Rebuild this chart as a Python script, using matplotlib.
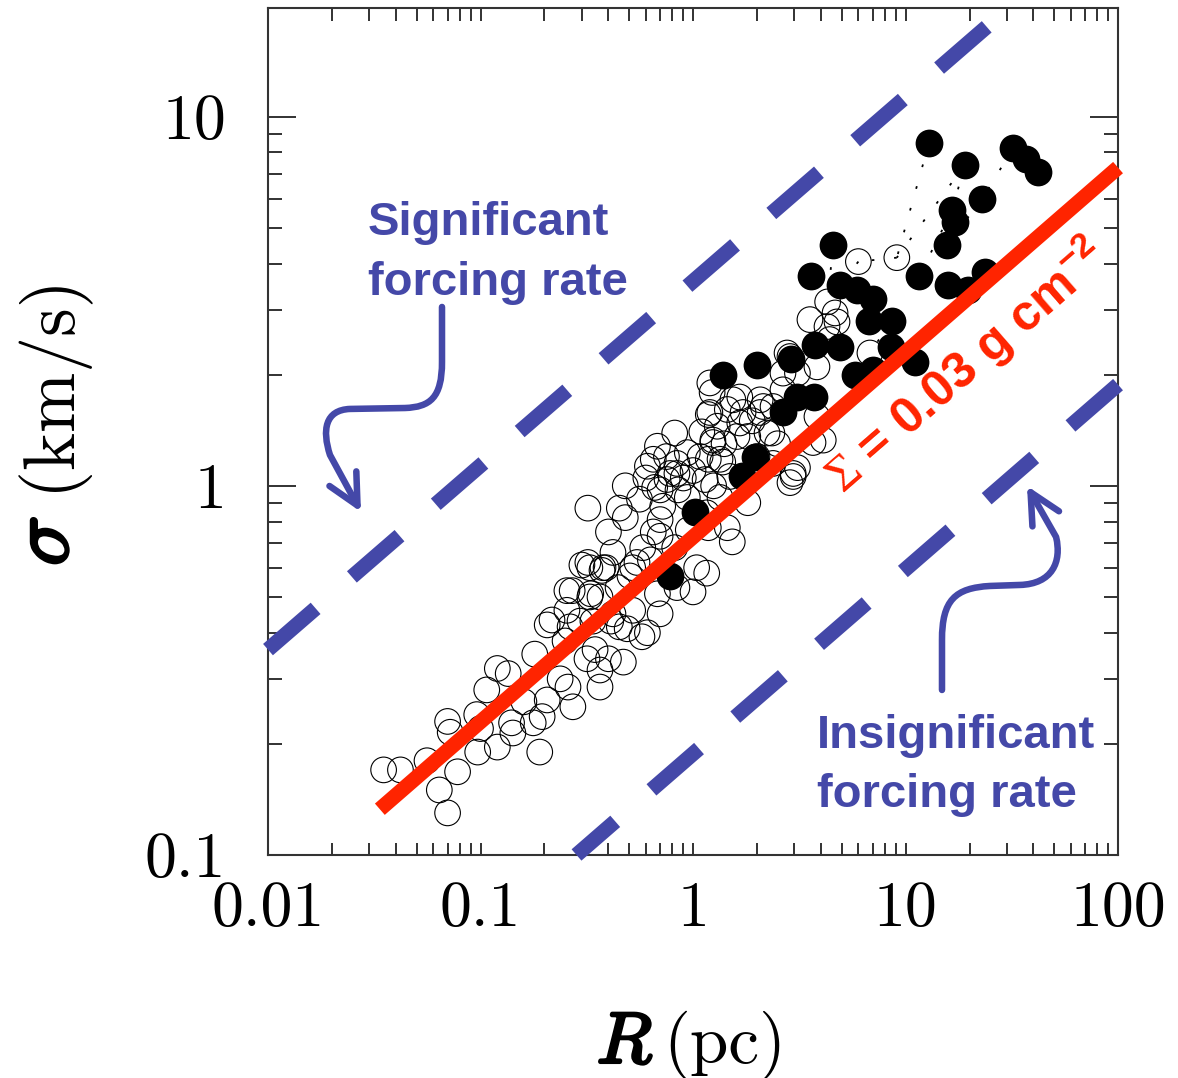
import numpy as np
import matplotlib
matplotlib.use('Agg')
import matplotlib.pyplot as plt
import matplotlib.patheffects as pe
from matplotlib.path import Path
from matplotlib.patches import FancyArrowPatch
from matplotlib.ticker import FuncFormatter, NullFormatter

plt.rcParams['mathtext.fontset'] = 'cm'
# used only by the red label (math_fontfamily='custom')
plt.rcParams['mathtext.rm'] = 'Liberation Serif'
plt.rcParams['mathtext.bf'] = 'Liberation Sans:bold'

BLUE = '#4448A8'
RED = '#FF2400'

# open circles: size R (pc) and velocity dispersion sigma (km/s)
R_open = [0.035, 0.042, 0.056, 0.064, 0.070, 0.078, 0.097, 0.12, 0.070, 0.072,
          0.096, 0.107, 0.12, 0.135, 0.14, 0.142, 0.177, 0.19, 0.18, 0.206,
          0.195, 0.206, 0.217, 0.255, 0.327, 0.237, 0.272, 0.258, 0.317, 0.346,
          0.365, 0.365, 0.40, 0.294, 0.41, 0.47, 0.45, 0.39, 0.327, 0.30,
          0.32, 0.45, 0.48, 0.68, 0.82, 0.65, 0.72, 0.70, 0.755, 0.85,
          0.94, 1.14, 1.18, 1.24, 1.18, 1.23, 1.54, 1.66, 1.81, 1.38,
          1.49, 1.34, 1.18, 1.53, 1.81, 1.04, 1.0, 1.16, 0.82, 0.70,
          0.63, 0.545, 0.42, 0.32, 0.373, 0.27, 0.365, 0.444, 0.52, 0.61,
          0.70, 0.84, 0.68, 0.95, 2.96, 2.86, 2.23, 3.67, 2.07, 2.38,
          2.07, 0.255, 0.264, 0.338, 0.42, 0.49, 0.575,
          0.61, 0.66, 0.65, 0.377, 0.33, 0.505,
          0.70, 0.78, 1.0, 1.08, 0.94, 0.84, 0.58, 0.52,
          2.38, 1.45, 1.16, 0.84, 1.30, 1.45, 2.65, 3.1, 2.86, 3.55,
          4.66, 4.4,
          6.0, 9.1, 4.76, 4.27, 4.3, 2.77, 2.65, 3.83, 6.8, 1.20,
          1.2, 1.66, 1.72, 2.14, 1.24, 1.61, 1.34, 2.35, 3.83, 4.1,
          3.1, 2.96,
          0.56, 0.48, 0.60, 0.75, 0.90, 1.10, 1.40, 1.90, 2.50, 0.40,
          0.25, 0.16, 0.10, 2.0, 1.25]
sig_open = [0.17, 0.17, 0.18, 0.15, 0.13, 0.168, 0.19, 0.196, 0.23, 0.215,
            0.24, 0.28, 0.32, 0.31, 0.228, 0.214, 0.228, 0.19, 0.35, 0.263,
            0.237, 0.42, 0.433, 0.52, 0.50, 0.30, 0.252, 0.285, 0.34, 0.36,
            0.317, 0.285, 0.34, 0.43, 0.43, 0.333, 0.415, 0.60, 0.60, 0.61,
            0.87, 0.87, 0.82, 1.28, 1.39, 1.18, 0.88, 0.81, 1.04, 0.975,
            0.93, 1.04, 1.18, 1.31, 1.56, 1.79, 1.71, 1.48, 1.36, 1.16,
            1.06, 0.93, 0.77, 0.705, 0.90, 0.60, 0.516, 0.58, 0.68, 0.73,
            0.63, 0.62, 0.66, 0.62, 0.59, 0.52, 0.50, 0.53, 0.46, 0.40,
            0.45, 0.53, 0.51, 0.76, 1.08, 1.02, 1.39, 1.31, 1.58, 1.64,
            1.71, 0.46, 0.415, 0.43, 0.45, 0.41, 0.39,
            1.13, 0.99, 0.75, 0.60, 0.51, 0.57,
            0.975, 1.08, 1.10, 1.20, 1.23, 1.15, 0.68, 0.60,
            1.15, 0.77, 0.845, 1.08, 1.45, 1.61, 1.82, 2.02, 2.24, 2.82,
            2.94, 2.49,
            4.05, 4.15, 2.78, 2.70, 3.15, 2.29, 2.02, 2.10, 2.29, 1.90,
            1.58, 1.74, 1.58, 1.64, 1.33, 1.36, 1.18, 1.39, 1.54, 1.33,
            1.12, 1.06,
            0.92, 1.00, 1.05, 1.20, 1.05, 1.40, 1.30, 1.50, 1.30, 0.75,
            0.38, 0.26, 0.22, 1.20, 1.00]

# filled circles
R_fill = [12.9, 19, 32, 37, 42, 23, 16.6, 17, 15.7, 11.6,
          15.8, 19.7, 23.7, 4.56, 3.6, 4.9, 5.9, 7.0, 6.7, 8.6,
          3.75, 4.9, 2.9, 8.5, 11.1, 2.0, 1.38, 5.8, 7.0, 3.1,
          3.7, 2.65, 1.96, 1.7, 1.02, 0.78]
sig_fill = [8.5, 7.4, 8.2, 7.7, 7.1, 6.0, 5.6, 5.2, 4.5, 3.7,
            3.5, 3.4, 3.8, 4.5, 3.7, 3.5, 3.4, 3.2, 2.8, 2.8,
            2.4, 2.37, 2.2, 2.37, 2.17, 2.13, 2.0, 2.0, 2.06, 1.74,
            1.74, 1.58, 1.2, 1.06, 0.85, 0.57]

# dotted parent -> child links of the hierarchy
link_R = [(12.9, 9.1), (19, 9.1), (32, 23), (19, 16.6), (23, 15.7),
          (16.6, 11.6), (9.1, 6.0), (4.56, 4.3), (6.0, 4.9), (8.6, 6.8)]
link_sig = [(8.5, 4.15), (7.4, 4.15), (8.2, 6.0), (7.4, 5.6), (6.0, 4.5),
            (5.6, 3.7), (4.15, 4.05), (4.5, 3.15), (4.05, 3.5), (2.8, 2.29)]

# constant-surface-density lines (sigma ~ R^0.5), endpoints
R_mid = [0.0336, 100]
sig_mid = [0.133, 7.28]
R_high = [0.01, 30.5]
sig_high = [0.36, 19.7]
R_low = [100, 0.283]
sig_low = [1.88, 0.1]

x_ticks = [0.01, 0.1, 1, 10, 100]
y_ticks = [0.1, 1, 10]

fig = plt.figure(figsize=(11.78, 10.78), dpi=100)
ax = fig.add_axes([0.2275, 0.2069, 0.7216, 0.7857])
ax.set_xscale('log')
ax.set_yscale('log')
ax.set_xlim(0.01, 100)
ax.set_ylim(0.1, 19.7)

for lr, ls in zip(link_R, link_sig):
    ax.plot(lr, ls, color='black', lw=1.3, linestyle=(0, (1.5, 11)),
            zorder=1)
ax.scatter(R_open, sig_open, s=340, facecolors='none', edgecolors='black',
           linewidths=0.8, zorder=2)
ax.scatter(R_fill, sig_fill, s=400, c='black', linewidths=0, zorder=3)

ax.plot(R_mid, sig_mid, color=RED, lw=10.8, solid_capstyle='butt',
        clip_on=False, zorder=5)
ax.plot(R_high, sig_high, color=BLUE, lw=10.8, linestyle=(0, (4.2, 3.2)),
        dash_capstyle='butt', clip_on=False, zorder=5)
ax.plot(R_low, sig_low, color=BLUE, lw=10.8, linestyle=(0, (4.2, 3.2)),
        dash_capstyle='butt', clip_on=False, zorder=5)

# axes and ticks
ax.set_xticks(x_ticks)
ax.set_yticks(y_ticks)
fmt = FuncFormatter(lambda v, pos: '%g' % v)
ax.xaxis.set_major_formatter(fmt)
ax.yaxis.set_major_formatter(fmt)
ax.xaxis.set_minor_formatter(NullFormatter())
ax.yaxis.set_minor_formatter(NullFormatter())
ax.tick_params(which='both', direction='in', top=True, right=True,
               color='#222222', width=1.3, labelsize=46,
               labelfontfamily='cmr10')
ax.tick_params(axis='x', which='both', length=9, pad=19)
ax.tick_params(axis='y', which='major', length=20, pad=30)
ax.tick_params(axis='y', which='minor', length=10)
for sp in ax.spines.values():
    sp.set_linewidth(1.5)
    sp.set_color('#333333')

# axis labels
bold = [pe.withStroke(linewidth=2.2, foreground='black')]
fig.text(0.0577, 0.498, r'$\sigma$', fontsize=60, rotation=90,
         rotation_mode='anchor', ha='center', va='baseline', path_effects=bold)
fig.text(0.0577, 0.6456, '(km/s)', fontsize=52, rotation=90, family='cmr10',
         rotation_mode='anchor', ha='center', va='baseline')
fig.text(0.5306, 0.0139, r'$R$', fontsize=52, ha='center', va='baseline',
         path_effects=bold)
fig.text(0.6154, 0.0139, '(pc)', fontsize=50, family='cmr10',
         ha='center', va='baseline')

# annotations
sans = ['Liberation Sans', 'DejaVu Sans']
ax.text(0.1176, 0.7320, 'Significant', transform=ax.transAxes, color=BLUE,
        fontsize=34, fontweight='bold', family=sans, va='baseline')
ax.text(0.1176, 0.6612, 'forcing rate', transform=ax.transAxes, color=BLUE,
        fontsize=34, fontweight='bold', family=sans, va='baseline')
ax.text(0.6459, 0.1263, 'Insignificant', transform=ax.transAxes, color=BLUE,
        fontsize=34, fontweight='bold', family=sans, va='baseline')
ax.text(0.6459, 0.0567, 'forcing rate', transform=ax.transAxes, color=BLUE,
        fontsize=34, fontweight='bold', family=sans, va='baseline')
ax.text(19.3, 2.12, r'$\Sigma$ = 0.03 g cm$^{\mathbf{-2}}$', color=RED,
        fontsize=36, fontweight='bold', family=sans, math_fontfamily='custom',
        rotation=41, rotation_mode='anchor', ha='center', va='center',
        zorder=6)

# curly arrows pointing at the dashed lines
up_verts = [(0.2047, 0.6470), (0.2047, 0.5821),
            (0.2047, 0.5396), (0.1906, 0.5289), (0.1612, 0.5277),
            (0.0965, 0.5266),
            (0.0671, 0.5254), (0.0635, 0.5018), (0.0729, 0.4723),
            (0.1094, 0.4050)]
lo_verts = [(0.7929, 0.1948), (0.7929, 0.2538),
            (0.7929, 0.3011), (0.8082, 0.3152), (0.8494, 0.3176),
            (0.8847, 0.3188),
            (0.9224, 0.3200), (0.9341, 0.3459), (0.9271, 0.3754),
            (0.8929, 0.4357)]
codes = [Path.MOVETO, Path.LINETO, Path.CURVE4, Path.CURVE4, Path.CURVE4,
         Path.LINETO, Path.CURVE4, Path.CURVE4, Path.CURVE4, Path.LINETO]
for verts in (up_verts, lo_verts):
    arr = FancyArrowPatch(path=Path(verts, codes), transform=ax.transAxes,
                          arrowstyle='->,head_length=2.2,head_width=1.1',
                          mutation_scale=10, color=BLUE, lw=4.7,
                          capstyle='round', joinstyle='round', clip_on=False,
                          zorder=6)
    ax.add_patch(arr)

fig.savefig('out.png', dpi=100)
